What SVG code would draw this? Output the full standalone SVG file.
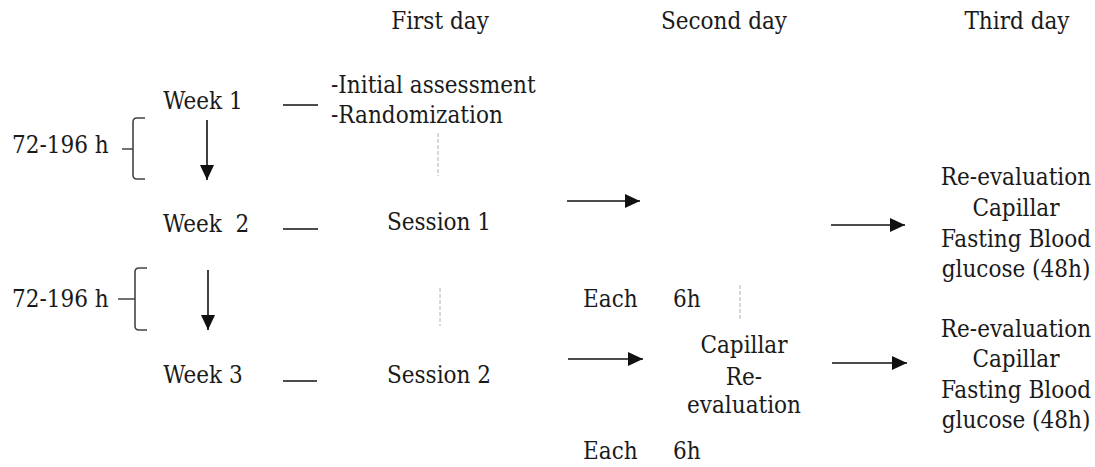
<svg xmlns="http://www.w3.org/2000/svg" width="1095" height="467" viewBox="0 0 1095 467">
<style>
text{font-family:'DejaVu Serif Condensed','DejaVu Serif',serif;font-stretch:condensed;font-size:24px;fill:#1a1a1a;}
.c{text-anchor:middle;}
.ln{stroke:#111;stroke-width:1.6;fill:none;}
.ar{stroke:#111;stroke-width:1.6;fill:none;marker-end:url(#ah);}
.dsh{stroke:#b0b0b0;stroke-width:1;stroke-dasharray:4,2;fill:none;}
.br{stroke:#444;stroke-width:1.6;fill:none;}
</style>
<defs>
<marker id="ah" markerUnits="userSpaceOnUse" markerWidth="16" markerHeight="14" refX="15" refY="7" orient="auto">
<path d="M0,0 L15,7 L0,14 Z" fill="#111"/>
</marker>
</defs>
<rect width="1095" height="467" fill="#fff"/>
<g id="headers">
<text class="c" x="440" y="29">First day</text>
<text class="c" x="724" y="29">Second day</text>
<text class="c" x="1017" y="29">Third day</text>
</g>
<g id="week1">
<text class="c" x="203" y="109">Week 1</text>
</g>
<g id="first-day-week1">
<text x="331" y="93">-Initial assessment</text>
<text x="331" y="123">-Randomization</text>
</g>
<g id="bracket1">
<text x="12" y="153">72-196 h</text>
<path class="br" d="M145,118 H137 Q133,118 133,122 V175 Q133,179 137,179 H145 M122,149 H133"/>
</g>
<g id="week2">
<text x="163" y="232" xml:space="preserve">Week  2</text>
</g>
<g id="session1">
<text class="c" x="439" y="230">Session 1</text>
</g>
<g id="bracket2">
<text x="12" y="307">72-196 h</text>
<path class="br" d="M147,268 H139 Q135,268 135,272 V326 Q135,330 139,330 H147 M118,299 H135"/>
</g>
<g id="week3">
<text class="c" x="203" y="383">Week 3</text>
</g>
<g id="session2">
<text class="c" x="439" y="383">Session 2</text>
</g>
<g id="each1">
<text x="583" y="307">Each</text>
<text x="673" y="307">6h</text>
</g>
<g id="capillar-second">
<text class="c" x="744" y="353">Capillar</text>
<text class="c" x="744" y="385">Re-</text>
<text class="c" x="744" y="413">evaluation</text>
</g>
<g id="each2">
<text x="583" y="459">Each</text>
<text x="673" y="459">6h</text>
</g>
<g id="third1">
<text class="c" x="1016" y="185">Re-evaluation</text>
<text class="c" x="1016" y="216">Capillar</text>
<text class="c" x="1016" y="247">Fasting Blood</text>
<text class="c" x="1016" y="277">glucose (48h)</text>
</g>
<g id="third2">
<text class="c" x="1016" y="337">Re-evaluation</text>
<text class="c" x="1016" y="367">Capillar</text>
<text class="c" x="1016" y="398">Fasting Blood</text>
<text class="c" x="1016" y="428">glucose (48h)</text>
</g>
<g id="connectors">
<line class="ln" x1="283" y1="105" x2="318" y2="105"/>
<line class="ln" x1="283" y1="229" x2="318" y2="229"/>
<line class="ln" x1="283" y1="381" x2="317" y2="381"/>
<line class="ar" x1="207" y1="120" x2="207" y2="180"/>
<line class="ar" x1="208" y1="270" x2="208" y2="330"/>
<line class="ar" x1="567" y1="201" x2="640" y2="201"/>
<line class="ar" x1="568" y1="359" x2="643" y2="359"/>
<line class="ar" x1="831" y1="225" x2="905" y2="225"/>
<line class="ar" x1="832" y1="363" x2="907" y2="363"/>
<line class="dsh" x1="438" y1="133" x2="438" y2="176"/>
<line class="dsh" x1="440" y1="288" x2="440" y2="326"/>
<line class="dsh" x1="740" y1="285" x2="740" y2="320"/>
</g>
</svg>
